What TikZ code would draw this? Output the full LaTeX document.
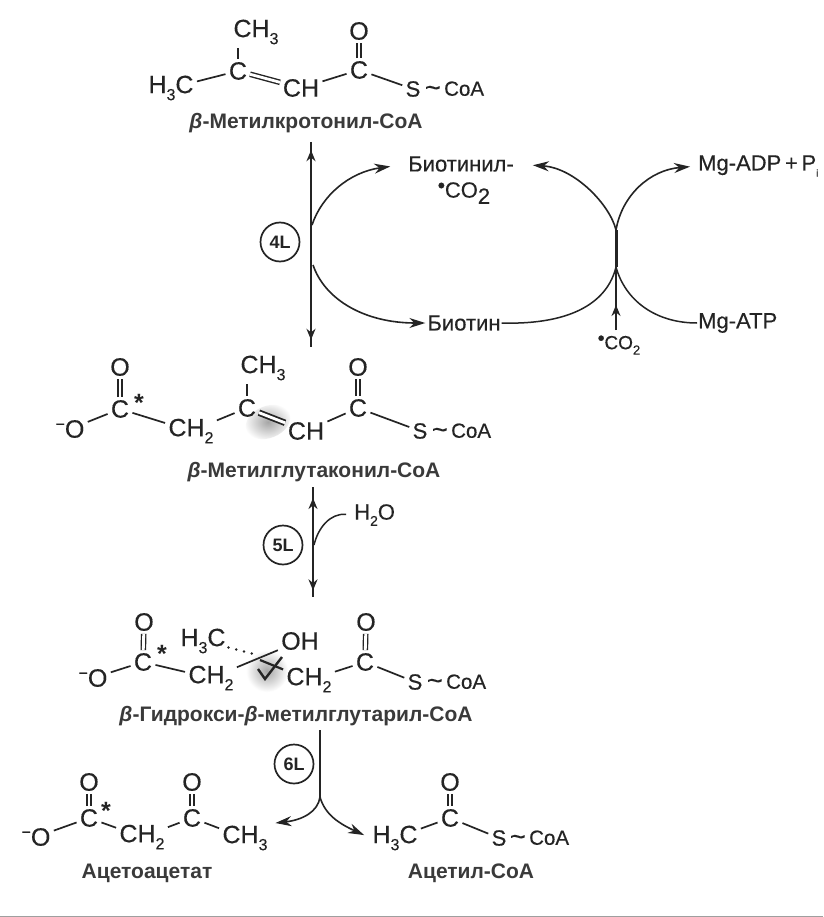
\documentclass[tikz,border=0pt]{standalone}
\usepackage{fontspec}
\setmainfont{Liberation Sans}
\newfontfamily\heavy[FakeBold=0.35]{Liberation Sans}
\usetikzlibrary{arrows.meta,decorations.markings}
\definecolor{ink}{gray}{0.14}
\newcommand\subs[1]{\raisebox{-0.28em}{\fontsize{16}{16}\selectfont #1}}
\newcommand\minusO{\raisebox{0.32em}{\fontsize{16}{16}\selectfont −}O}
\newcommand\twiddle{\raisebox{-0.04em}{\fontsize{27}{27}\selectfont\textasciitilde}}
\tikzset{
  atom/.style={inner sep=2pt,outer sep=0pt,font=\heavy\fontsize{25}{25}\selectfont,text=ink},
  satom/.style={inner sep=2pt,outer sep=0pt,font=\heavy\fontsize{22}{22}\selectfont,text=ink},
  tail/.style={inner sep=0pt,outer sep=0pt,anchor=west,font=\heavy\fontsize{20.5}{20.5}\selectfont,text=ink},
  star/.style={inner sep=0pt,font=\fontsize{25}{25}\selectfont\bfseries,text=ink},
  bond/.style={draw=ink,line width=1.7pt,shorten >=1.5pt,shorten <=1.5pt},
  dbl/.style={draw=ink,line width=1.4pt,double=white,double distance=2.8pt,shorten >=1pt,shorten <=1pt},
  namelabel/.style={inner sep=0pt,font=\fontsize{21}{21}\selectfont\bfseries,text=ink!90},
  txt/.style={inner sep=0pt,font=\heavy\fontsize{22}{22}\selectfont,text=ink},
  enz/.style={circle,draw=ink,line width=1.7pt,minimum size=39pt,inner sep=0pt,font=\fontsize{18}{18}\selectfont\bfseries,text=ink},
  rxn/.style={draw=ink,line width=2pt},
  flow/.style={draw=ink,line width=1.6pt,-{Stealth[length=16pt,width=10pt]}},
  plainflow/.style={draw=ink,line width=1.5pt},
  headup/.style={postaction={decorate,decoration={markings,mark=at position #1 with {\arrowreversed{Stealth[length=11pt,width=9pt]}}}}},
  headdown/.style={postaction={decorate,decoration={markings,mark=at position #1 with {\arrow{Stealth[length=11pt,width=9pt]}}}}},
}
\begin{document}
\begin{tikzpicture}[x=1pt,y=-1pt]
\useasboundingbox (0,0) rectangle (823,917);
\fill[white] (0,0) rectangle (823,917);
\fill[gray!75] (0,915.5) rectangle (823,917);

% structure 1
\node[atom] (a1) at (171,88) {H\subs{3}C};
\node[atom] (a2) at (238,71) {C};
\node[atom] (a3) at (256,32) {CH\subs{3}};
\node[atom] (a4) at (301,88) {CH};
\node[atom] (a5) at (359,70) {C};
\node[atom] (a6) at (359,31) {O};
\node[satom] (a7) at (413,89) {S};
\node[tail] (a8) at (425,89) {\twiddle\,CoA};
\node[namelabel] (l1) at (306,123) {\textit{β}-Метилкротонил-CoA};
\draw[bond] (a1) -- (a2);
\draw[bond] (a2) -- (a2 |- a3.south);
\draw[dbl] (a2) -- (a4);
\draw[bond] (a4) -- (a5);
\draw[dbl] (a5) -- (a6);
\draw[bond] (a5) -- (a7);

% biotin cycle
\coordinate (r4t) at (311,142);
\coordinate (r4b) at (311,347);
\coordinate (r4u) at (312,225);
\coordinate (r4d) at (313,265);
\coordinate (cj) at (616,267);
\coordinate (cb) at (616,330);
\coordinate (ct) at (616,230);
\node[txt] (bc) at (461,164) {Биотинил-};
\node[txt] (co) at (464,193) {\raisebox{0.25em}{\fontsize{20}{20}\selectfont\bfseries•}CO\subs{\fontsize{22}{22}\selectfont 2}};
\node[txt] (bn) at (464,323) {Биотин};
\node[txt,anchor=west] (adp) at (698,166) {Mg-ADP\,+\,P\subs{\fontsize{10}{10}\selectfont i}};
\node[txt,anchor=west] (atp) at (698,323) {Mg-ATP};
\node[txt,font=\heavy\fontsize{19}{19}\selectfont] (co2) at (619,345) {\raisebox{0.25em}{\bfseries•}CO\subs{\fontsize{13}{13}\selectfont 2}};
\node[enz] (e4) at (280,242) {4L};
\draw[rxn,headup=0.04,headdown=0.965] (r4t) -- (r4b);
\draw[flow,shorten >=18pt] (r4u) .. controls (322,195) and (350,172) .. (bc.west);
\draw[flow,shorten >=2pt] (r4d) .. controls (325,300) and (365,323) .. (bn.west);
\draw[plainflow,shorten <=1pt] (bn.east) .. controls (575,325) and (608,300) .. (cj);
\draw[flow,shorten >=19pt] (ct) .. controls (610,205) and (575,168) .. (bc.east);
\draw[plainflow,shorten >=1pt] (cj) .. controls (625,300) and (655,323) .. (atp.west);
\draw[flow,shorten >=8pt] (ct) .. controls (622,195) and (650,170) .. (adp.west);
\draw[draw=ink,line width=1.6pt,headdown=0.25] (cb) -- (ct);
\draw[draw=ink,line width=3pt] (ct) -- (cj);

% structure 2
\shade[inner color=gray!70,outer color=white,draw=none,rotate around={22:(268,422)}] (268,422) ellipse (23pt and 16pt);
\node[atom] (b1) at (70,429) {\minusO};
\node[atom] (b2) at (120,409) {C};
\node[star] (b2s) at (139,403) {*};
\node[atom] (b3) at (120,367) {O};
\node[atom] (b4) at (191,431) {CH\subs{2}};
\node[atom] (b5) at (247,408) {C};
\node[atom] (b6) at (263,368) {CH\subs{3}};
\node[atom] (b7) at (306,431) {CH};
\node[atom] (b8) at (358,408) {C};
\node[atom] (b9) at (358,367) {O};
\node[satom] (b10) at (420,431) {S};
\node[tail] (b11) at (432,431) {\twiddle\,CoA};
\node[namelabel] (l2) at (314,472) {\textit{β}-Метилглутаконил-CoA};
\draw[bond] (b1) -- (b2);
\draw[bond] (b2) -- (b4);
\draw[dbl] (b2) -- (b3);
\draw[bond] (b4) -- (b5);
\draw[bond] (b5) -- (b5 |- b6.south);
\draw[dbl,line width=1.8pt] (b5) -- (b7);
\draw[bond] (b7) -- (b8);
\draw[dbl] (b8) -- (b9);
\draw[bond] (b8) -- (b10);

% reaction 5L
\coordinate (r5t) at (313,487);
\coordinate (r5b) at (313,597);
\coordinate (r5w) at (314,545);
\node[txt,anchor=west] (w) at (354,515) {H\subs{\fontsize{14}{14}\selectfont 2}O};
\node[enz] (e5) at (283,545) {5L};
\draw[rxn,headup=0.1,headdown=0.94] (r5t) -- (r5b);
\draw[plainflow,shorten >=8pt] (r5w) .. controls (318,528) and (330,513) .. (w.west);

% structure 3
\shade[inner color=gray!70,outer color=white,draw=none] (267,671) circle (21pt);
\node[atom] (c1) at (93,678) {\minusO};
\node[atom] (c2) at (143,662) {C};
\node[star] (c2s) at (162,654) {*};
\node[atom] (c3) at (144,622) {O};
\node[atom] (c4) at (211,678) {CH\subs{2}};
\node[atom] (c5) at (203,641) {H\subs{3}C};
\node[atom] (c6) at (300,641) {OH};
\node[atom] (c7) at (309,680) {CH\subs{2}};
\node[atom] (c8) at (365,662) {C};
\node[atom] (c9) at (366,622) {O};
\node[satom] (c10) at (415,682) {S};
\node[tail] (c11) at (427,682) {\twiddle\,CoA};
\node[namelabel] (l3) at (296,716) {\textit{β}-Гидрокси-\textit{β}-метилглутарил-CoA};
\coordinate (dots) at (254,654);
\coordinate (xa) at (260,660);
\coordinate (xb) at (282,657);
\coordinate (xc) at (265,679);
\coordinate (xd) at (258,669);
\draw[bond] (c1) -- (c2);
\draw[bond] (c2) -- (c4);
\draw[dbl] (c2) -- (c3);
\draw[bond] (c4) -- (c6);
\draw[draw=ink,line width=2.8pt,line cap=round,dash pattern=on 0pt off 8pt,shorten <=1pt] (c5) -- (dots);
\draw[bond,line width=2.2pt,shorten <=0pt] (xa) -- (c7);
\draw[bond,line width=2.4pt,shorten >=0pt,shorten <=0pt] (xb) -- (xc) -- (xd);
\draw[bond] (c7) -- (c8);
\draw[dbl] (c8) -- (c9);
\draw[bond] (c8) -- (c10);

% reaction 6L
\coordinate (r6t) at (320,730);
\coordinate (r6s) at (320,797);
\node[enz] (e6) at (294,764) {6L};
\draw[draw=ink,line width=1.7pt] (r6t) -- (r6s);

% structure 4
\node[atom] (d1) at (36,837) {\minusO};
\node[atom] (d2) at (89,818) {C};
\node[star] (d2s) at (106,811) {*};
\node[atom] (d3) at (89,782) {O};
\node[atom] (d4) at (142,837) {CH\subs{2}};
\node[atom] (d5) at (192,818) {C};
\node[atom] (d6) at (192,782) {O};
\node[atom] (d7) at (245,838) {CH\subs{3}};
\node[namelabel] (l4) at (147,873) {Ацетоацетат};
\draw[bond] (d1) -- (d2);
\draw[bond] (d2) -- (d4);
\draw[dbl] (d2) -- (d3);
\draw[bond] (d4) -- (d5);
\draw[dbl] (d5) -- (d6);
\draw[bond] (d5) -- (d7);

% structure 5
\node[atom] (f1) at (395,838) {H\subs{3}C};
\node[atom] (f2) at (450,818) {C};
\node[atom] (f3) at (450,782) {O};
\node[satom] (f4) at (499,838) {S};
\node[tail] (f5) at (510,838) {\twiddle\,CoA};
\node[namelabel] (l5) at (471,873) {Ацетил-CoA};
\draw[bond] (f1) -- (f2);
\draw[dbl] (f2) -- (f3);
\draw[bond] (f2) -- (f4);

\draw[flow,shorten >=6pt] (r6s) .. controls (318,812) and (302,820) .. (d7.north east);
\draw[flow,shorten >=7pt] (r6s) .. controls (325,815) and (340,824) .. (f1.west);
\end{tikzpicture}
\end{document}
